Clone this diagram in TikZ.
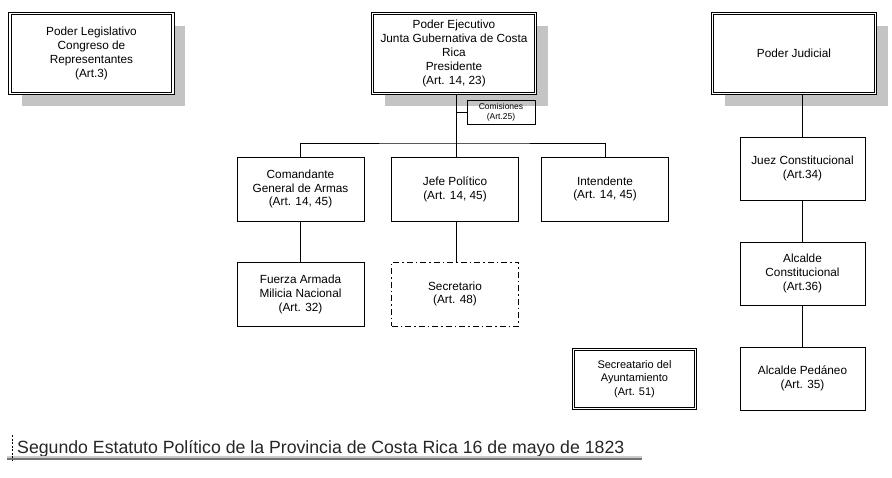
\documentclass[tikz,border=0pt]{standalone}
\usepackage{fontspec}
\setmainfont{Liberation Sans}
\usetikzlibrary{shadows}

\begin{document}
\begin{tikzpicture}[x=1pt, y=-1pt,
  box/.style={draw, line width=0.9pt, minimum width=127pt, minimum height=64pt,
    align=center, inner sep=2pt, font=\fontsize{11.8}{13.8}\selectfont},
  dbox/.style={box, double, line width=0.7pt, double distance=1.8pt},
  shbox/.style={dbox, fill=white, minimum width=163pt, minimum height=80pt,
    drop shadow={shadow xshift=12pt, shadow yshift=-12pt, opacity=1, fill=black!23}},
  dashdot/.style={dash pattern=on 6pt off 3pt on 1.5pt off 3pt}]
  \useasboundingbox (0,0) rectangle (892,477);

  \node[shbox] at (91.5,53.5) (Leg) {Poder Legislativo\\Congreso de\\Representantes\\(Art.3)};
  \node[shbox] at (454,53.5) (Ejec) {Poder Ejecutivo\\Junta Gubernativa de Costa\\Rica\\Presidente\\(Art. 14, 23)};
  \node[shbox] at (794,53.5) (Jud) {Poder Judicial};

  \node[draw, line width=0.8pt, minimum width=68pt, minimum height=24pt, align=center,
    inner sep=1pt, font=\fontsize{8.5}{10}\selectfont] at (501,112) (Comis) {Comisiones\\(Art.25)};

  \node[box] at (300.5,189) (Coman) {Comandante\\General de Armas\\(Art. 14, 45)};
  \node[box] at (455,189) (Jefe) {Jefe Político\\(Art. 14, 45)};
  \node[box] at (605,189) (Intend) {Intendente\\(Art. 14, 45)};

  \node[box] at (300.5,294.5) (Fuerza) {Fuerza Armada\\Milicia Nacional\\(Art. 32)};
  \node[box, dashdot, line width=0.8pt] at (455,294) (Secr) {Secretario\\(Art. 48)};

  \node[box, minimum width=125pt, minimum height=63pt] at (802.5,168.5) (Juez) {Juez Constitucional\\(Art.34)};
  \node[box, minimum width=125pt, minimum height=63pt] at (802.5,273.5) (AlcC) {Alcalde\\Constitucional\\(Art.36)};
  \node[box, minimum width=125pt, minimum height=63pt] at (802.5,378.5) (AlcP) {Alcalde Pedáneo\\(Art. 35)};

  \node[dbox, minimum width=122pt, minimum height=59pt, font=\fontsize{11}{13.8}\selectfont]
    at (634.5,379) (SecAy) {Secreatario del\\Ayuntamiento\\(Art. 51)};

  % ejecutivo
  \coordinate (bar) at (456,143);
  \draw[line width=0.9pt] (Ejec.south -| bar) -- (bar);
  \draw[line width=0.9pt] (Comis.west -| bar) -- (Comis.west);
  \draw[line width=0.9pt] (Coman.north) |- (bar) -| (Intend.north);
  \draw[line width=0.9pt] (bar) -- (Jefe.north -| bar);
  \draw[line width=0.9pt] (Coman) -- (Fuerza);
  \draw[line width=0.9pt] (Jefe.south -| bar) -- (Secr.north -| bar);

  % judicial
  \draw[line width=0.9pt] (Jud.south -| Juez) -- (Juez.north);
  \draw[line width=0.9pt] (Juez) -- (AlcC);
  \draw[line width=0.9pt] (AlcC) -- (AlcP);

  % pie
  \node[anchor=base west, inner sep=0pt, font=\fontsize{17.7}{20}\selectfont, text=black!85]
    at (17,453) (Titulo) {Segundo Estatuto Político de la Provincia de Costa Rica 16 de mayo de 1823};
  \coordinate (Raya) at (7,459);
  \draw[line width=2pt, black!20] ([yshift=2pt]Raya) -- ([yshift=2pt]Raya -| 642,0);
  \draw[line width=1.6pt, black!55] (Raya) -- (Raya -| 642,0);
  \draw[line width=1pt, dash pattern=on 2pt off 1.5pt] (12,435) -- (12,460);
\end{tikzpicture}
\end{document}
